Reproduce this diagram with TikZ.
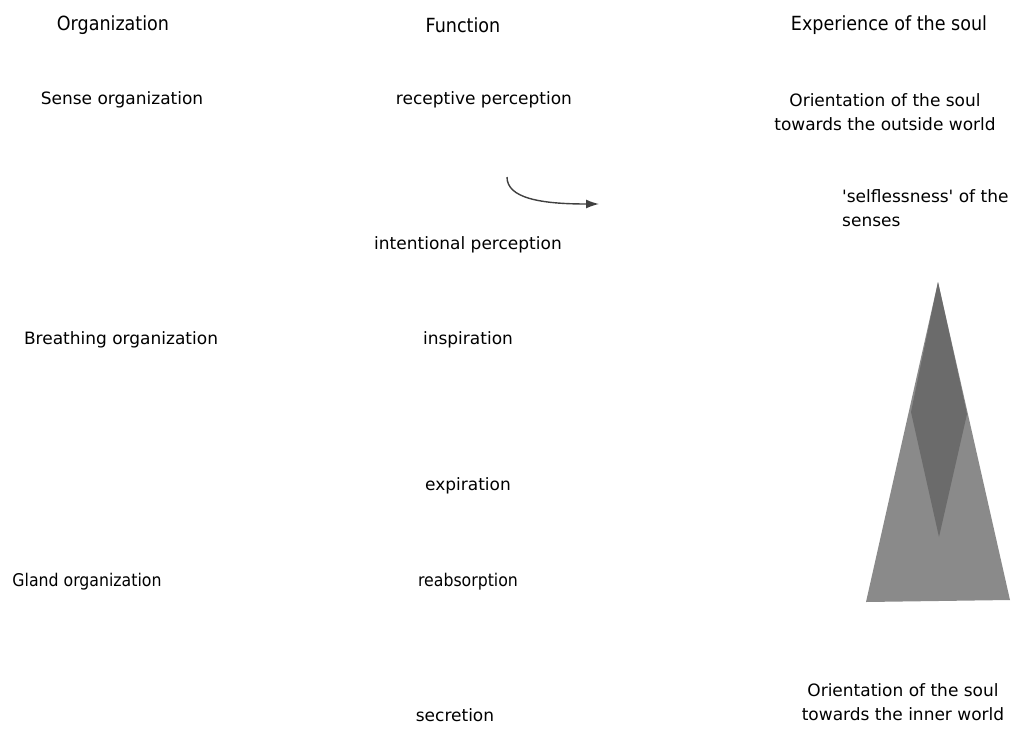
\documentclass[tikz,border=0pt]{standalone}
\usepackage{fontspec}
\newfontfamily\bodyfont{DejaVu Sans}
\newfontfamily\narrowfont{DejaVu Sans Condensed}
\usetikzlibrary{arrows.meta}

\begin{document}
\begin{tikzpicture}[
    x=1pt, y={(0,-1pt)},
    font=\bodyfont\fontsize{17}{24}\selectfont,
    lbl/.style={inner sep=0pt, align=center},
    narrow/.style={lbl, font=\narrowfont\fontsize{17.5}{24}\selectfont},
    headlbl/.style={lbl, font=\narrowfont\fontsize{19.5}{24}\selectfont},
    curvearrow/.style={-{Latex[length=13pt,width=9pt]}, line width=1.4pt, draw=black!75}
]
\useasboundingbox (0,0) rectangle (1013,729);

% column heads
\node[headlbl] (hOrg) at (113,25) {Organization};
\node[headlbl] (hFun) at (463,25) {Function};
\node[headlbl] (hExp) at (889,25) {Experience of the soul};

% organizations
\node[lbl] (sense) at (122,100) {Sense organization};
\node[lbl] (breath) at (121,340) {Breathing organization};
\node[narrow] (gland) at (87,582) {Gland organization};

% functions
\node[lbl] (recept) at (484,100) {receptive perception};
\node[lbl] (intent) at (468,245) {intentional perception};
\node[lbl] (inspir) at (468,340) {inspiration};
\node[lbl] (expir) at (468,486) {expiration};
\node[narrow] (reabs) at (468,582) {reabsorption};
\node[lbl] (secret) at (455,715) {secretion};

% experience of the soul
\node[lbl] (outer) at (885,112) {Orientation of the soul\\towards the outside world};
\node[lbl, align=left, anchor=west] (selfless) at (842,208) {'selflessness' of the\\senses};
\node[lbl] (inner) at (903,702) {Orientation of the soul\\towards the inner world};

% triangle
\fill[black!46] (938,282) -- (866,602) -- (1010,600) -- cycle;
\fill[black!58] (938,282) -- (911,412) -- (939,537) -- (967,414) -- cycle;

% arrow
\coordinate (aStart) at (507,177);
\coordinate (aEnd) at (599,204);
\draw[curvearrow] (aStart) .. controls (507,198) and (540,204) .. (aEnd);
\end{tikzpicture}
\end{document}
